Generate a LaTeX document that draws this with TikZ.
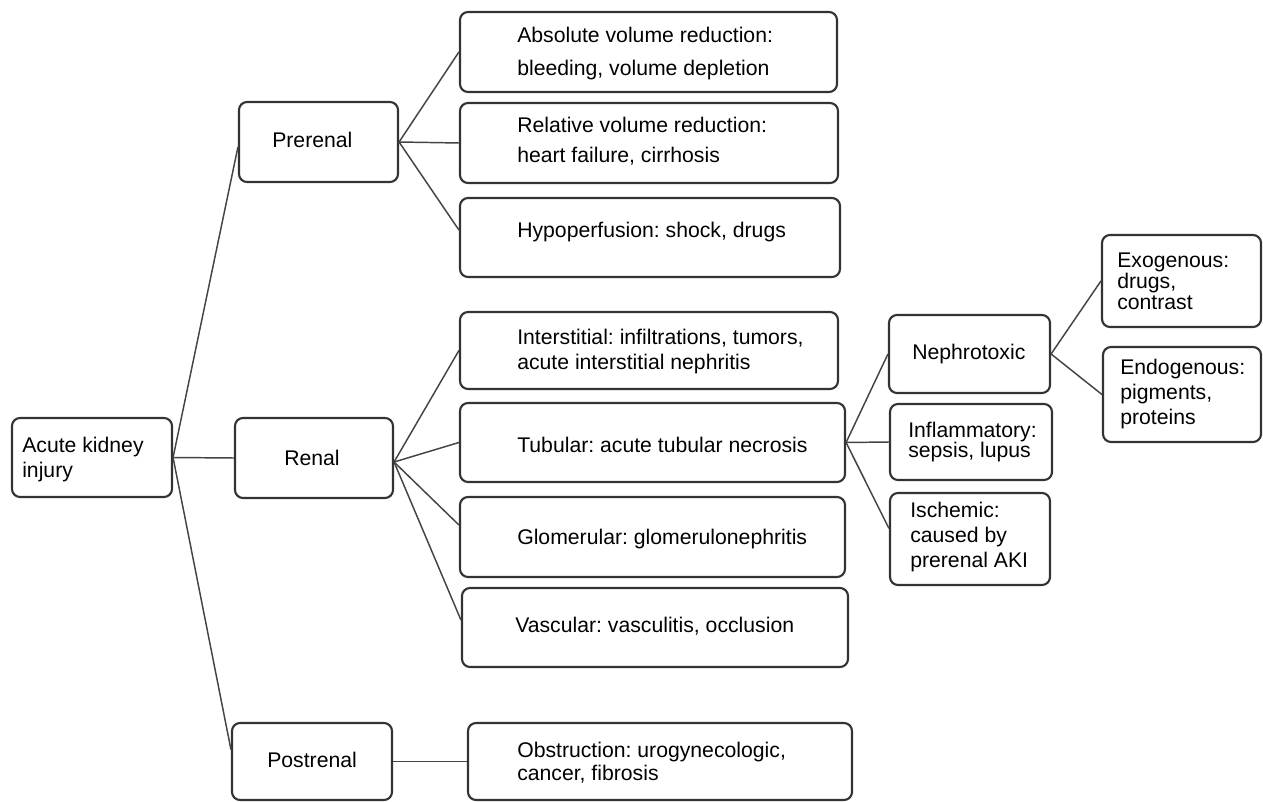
\documentclass[tikz,border=0pt]{standalone}
\usepackage{fontspec}
\setmainfont{Liberation Sans}
\usetikzlibrary{fit}
\definecolor{boxc}{HTML}{333333}
\definecolor{linkc}{HTML}{444444}
\newcommand\tstrut{\vrule height 12pt depth 0pt width 0pt}
\frenchspacing
\begin{document}
\begin{tikzpicture}[x=0.75pt,y=-0.75pt,
  box/.style={draw=boxc, line width=1.6pt, rounded corners=6pt, inner sep=0pt, fill=white},
  txt/.style={anchor=north west, inner sep=0pt, align=left, text=black},
  ls/.style={font=\fontsize{15.9pt}{#1}\selectfont\frenchspacing},
  link/.style={draw=linkc, line width=1.1pt}]
\useasboundingbox (0,0) rectangle (1263,802);
\fill[white] (0,0) rectangle (1263,802);

% boxes
\node[box, fit={(12,418) (172,497)}] (aki) {};
\node[box, fit={(239,102) (398,182)}] (pre) {};
\node[box, fit={(235,418) (393,498)}] (ren) {};
\node[box, fit={(232,723) (392,800)}] (post) {};
\node[box, fit={(460,12) (837,92)}] (abs) {};
\node[box, fit={(460,103) (838,183)}] (rel) {};
\node[box, fit={(460,198) (840,277)}] (hyp) {};
\node[box, fit={(460,312) (838,389)}] (int) {};
\node[box, fit={(460,403) (845,482)}] (tub) {};
\node[box, fit={(460,497) (845,577)}] (glo) {};
\node[box, fit={(462,588) (848,667)}] (vas) {};
\node[box, fit={(468,723) (852,800)}] (obs) {};
\node[box, fit={(889,315) (1050,393)}] (nep) {};
\node[box, fit={(890,404) (1052,480)}] (inf) {};
\node[box, fit={(890,493) (1050,585)}] (isc) {};
\node[box, fit={(1102,235) (1261,327)}] (exo) {};
\node[box, fit={(1103,347) (1261,442)}] (endo) {};

% texts
\node[txt, ls=18.75pt] (akiT) at (22,436.6) {\tstrut Acute kidney\\injury};
\node[txt, ls=18.75pt] (preT) at (272,131.6) {\tstrut Prerenal};
\node[txt, ls=18.75pt] (renT) at (284,449.6) {\tstrut Renal};
\node[txt, ls=18.75pt] (postT) at (267,751.6) {\tstrut Postrenal};
\node[txt, ls=24.75pt] (absT) at (517,26.6) {\tstrut Absolute volume reduction:\\bleeding, volume depletion};
\node[txt, ls=22.5pt] (relT) at (517,116.6) {\tstrut Relative volume reduction:\\heart failure, cirrhosis};
\node[txt, ls=18.75pt] (hypT) at (517,221.6) {\tstrut Hypoperfusion: shock, drugs};
\node[txt, ls=18.75pt] (intT) at (517,328.6) {\tstrut Interstitial: infiltrations, tumors,\\acute interstitial nephritis};
\node[txt, ls=18.75pt] (tubT) at (517,436.6) {\tstrut Tubular: acute tubular necrosis};
\node[txt, ls=18.75pt] (gloT) at (517,528.6) {\tstrut Glomerular: glomerulonephritis};
\node[txt, ls=18.75pt] (vasT) at (515,616.6) {\tstrut Vascular: vasculitis, occlusion};
\node[txt, ls=17.25pt] (obsT) at (517,741.6) {\tstrut Obstruction: urogynecologic,\\cancer, fibrosis};
\node[txt, ls=18.75pt] (nepT) at (912,343.6) {\tstrut Nephrotoxic};
\node[txt, ls=15pt] (infT) at (908,421.6) {\tstrut Inflammatory:\\sepsis, lupus};
\node[txt, ls=18.75pt] (iscT) at (910,501.6) {\tstrut Ischemic:\\caused by\\prerenal AKI};
\node[txt, ls=15.75pt] (exoT) at (1117,251.6) {\tstrut Exogenous:\\drugs,\\contrast};
\node[txt, ls=18.75pt] (endoT) at (1120,358.6) {\tstrut Endogenous:\\pigments,\\proteins};

% connectors
\path[link] (aki.east) -- ([yshift=-3.75pt]pre.west);
\path[link] (aki.east) -- (ren.west);
\path[link] (aki.east) -- ([yshift=9pt]post.west);
\path[link] (pre.east) -- (abs.west);
\path[link] (pre.east) -- (rel.west);
\path[link] (pre.east) -- ([yshift=5.6pt]hyp.west);
\path[link] ([yshift=-3pt]ren.east) -- (int.west);
\path[link] ([yshift=-3pt]ren.east) -- (tub.west);
\path[link] ([yshift=-3pt]ren.east) -- ([yshift=9pt]glo.west);
\path[link] ([yshift=-3pt]ren.east) -- ([yshift=5.6pt]vas.west);
\path[link] (post.east) -- (obs.west);
\path[link] (tub.east) -- (nep.west);
\path[link] (tub.east) -- (inf.west);
\path[link] (tub.east) -- ([yshift=8pt]isc.west);
\path[link] (nep.east) -- (exo.west);
\path[link] (nep.east) -- (endo.west);
\end{tikzpicture}
\end{document}
